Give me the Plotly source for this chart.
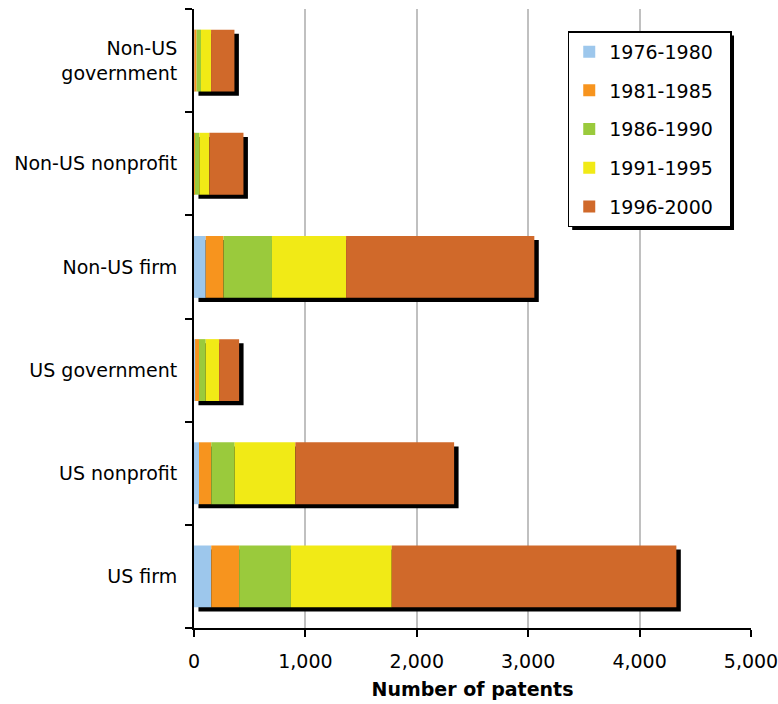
import numpy as np
import plotly.graph_objects as go

# Patent counts by assignee type, bottom to top
categories = ["US firm", "US nonprofit", "US government",
              "Non-US firm", "Non-US nonprofit", "Non-US<br>government"]

periods = ["1976-1980", "1981-1985", "1986-1990", "1991-1995", "1996-2000"]

p1976_1980 = [155, 45, 10, 105, 3, 3]
p1981_1985 = [250, 110, 35, 160, 5, 20]
p1986_1990 = [465, 210, 60, 435, 40, 40]
p1991_1995 = [905, 545, 120, 665, 90, 90]
p1996_2000 = [2555, 1425, 180, 1690, 306, 210]

x_ticks = [0, 1000, 2000, 3000, 4000, 5000]
x_tick_labels = ["0", "1,000", "2,000", "3,000", "4,000", "5,000"]

colors = ["#9dc7ec", "#f7941e", "#9aca3c", "#f1ea16", "#d0692a"]

series = np.array([p1976_1980, p1981_1985, p1986_1990, p1991_1995, p1996_2000], dtype=float)
bases = np.vstack([np.zeros(len(categories)), np.cumsum(series, axis=0)[:-1]])
totals = series.sum(axis=0)

FONT = "DejaVu Sans"
FS = 19
BAR_W = 0.6
SHADOW_DX = 40        # data units (~4.5 px)
SHADOW_DY = 0.04      # category units (~4 px)

fig = go.Figure()

# drop shadow behind each stacked bar
fig.add_trace(go.Bar(
    y=categories, x=totals, base=SHADOW_DX, orientation="h",
    width=BAR_W, offset=-BAR_W / 2 - SHADOW_DY,
    marker=dict(color="black", line=dict(width=0)),
    showlegend=False, hoverinfo="skip",
))

for i, name in enumerate(periods):
    fig.add_trace(go.Bar(
        y=categories, x=series[i], base=bases[i], orientation="h",
        name=name + "\u00a0\u00a0", legendgroup=name,
        width=BAR_W, offset=-BAR_W / 2,
        marker=dict(color=colors[i], line=dict(width=0)),
    ))

fig.update_layout(
    width=778, height=704,
    margin=dict(l=194, r=27, t=9, b=76, autoexpand=False),
    barmode="overlay",
    plot_bgcolor="white", paper_bgcolor="white",
    font=dict(family=FONT, size=FS, color="black"),
    legend=dict(
        x=0.671, y=0.964, xanchor="left", yanchor="top",
        bgcolor="white", bordercolor="black", borderwidth=1.5,
        font=dict(family=FONT, size=FS, color="black"),
        tracegroupgap=11, traceorder="grouped",
    ),
    xaxis=dict(
        range=[0, 5000], tickvals=x_ticks, ticktext=x_tick_labels,
        showgrid=True, gridcolor="#c0c0c0", gridwidth=2,
        showline=True, linecolor="black", linewidth=2,
        ticks="outside", ticklen=7, tickwidth=2, tickcolor="black",
        zeroline=False, automargin=False, ticklabelstandoff=8,
        ticklabeloverflow="allow",
        title=dict(text="<b>Number of patents</b>", standoff=12,
                   font=dict(family=FONT, size=FS)),
    ),
    yaxis=dict(
        categoryorder="array", categoryarray=categories,
        range=[-0.5, len(categories) - 0.5],
        showgrid=False, showline=True, linecolor="black", linewidth=2,
        ticks="outside", ticklen=7, tickwidth=2, tickcolor="black",
        tickson="boundaries", ticklabelstandoff=11, automargin=False,
    ),
)

# legend drop shadow
fig.add_shape(type="rect", xref="paper", yref="paper",
              x0=0.679, x1=0.9695, y0=0.643, y1=0.957,
              fillcolor="black", line=dict(width=0), layer="above")

fig.write_html("out.html")
